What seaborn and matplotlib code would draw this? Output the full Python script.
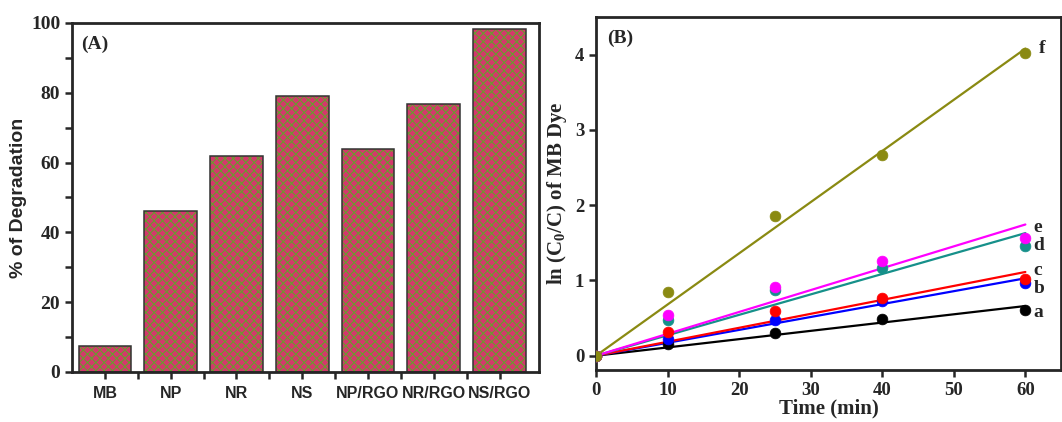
import numpy as np
import pandas as pd
import matplotlib.pyplot as plt
import seaborn as sns

# data: (A) degradation per sample
samples = ['MB', 'NP', 'NR', 'NS', 'NP/RGO', 'NR/RGO', 'NS/RGO']
degradation = [7.5, 46, 62, 79, 64, 76.7, 98.3]

# data: (B) kinetics, ln(C0/C) vs time
time_min = [0, 10, 25, 40, 60]
curve_a = [0, 0.15, 0.30, 0.49, 0.61]
curve_b = [0, 0.22, 0.48, 0.73, 0.97]
curve_c = [0, 0.31, 0.59, 0.77, 1.02]
curve_d = [0, 0.47, 0.87, 1.17, 1.46]
curve_e = [0, 0.54, 0.91, 1.26, 1.56]
curve_f = [0, 0.84, 1.86, 2.67, 4.02]
curve_names = ['a', 'b', 'c', 'd', 'e', 'f']

sns.set_style('ticks')
plt.rcParams['font.family'] = ['Liberation Serif', 'DejaVu Serif']
plt.rcParams['font.weight'] = 'bold'
plt.rcParams['axes.labelweight'] = 'bold'
plt.rcParams['axes.linewidth'] = 2
plt.rcParams['hatch.linewidth'] = 0.8
plt.rcParams['mathtext.fontset'] = 'custom'
plt.rcParams['mathtext.rm'] = 'Liberation Serif:bold'
plt.rcParams['mathtext.bf'] = 'Liberation Serif:bold'

fig = plt.figure(figsize=(10.62, 4.22), dpi=100)
ax1 = fig.add_axes([0.0678, 0.1185, 0.4397, 0.827])
ax2 = fig.add_axes([0.5612, 0.1232, 0.4380, 0.8365])

# ---- panel A ----
df_a = pd.DataFrame({'sample': samples, 'deg': degradation})
sns.barplot(data=df_a, x='sample', y='deg', ax=ax1, color='#d4386c',
            saturation=1, edgecolor='#699c2e', linewidth=0, hatch='xxxx',
            width=0.8)
# outline on top (hatch colour follows edge colour, so draw the border separately)
sns.barplot(data=df_a, x='sample', y='deg', ax=ax1, fill=False,
            edgecolor='#333333', linewidth=1.1, width=0.8)
ax1.set_xlim(-0.5, 6.6)
ax1.set_ylim(0, 100)
ax1.set_xlabel('')
ax1.set_ylabel('% of Degradation', fontsize=14, fontfamily='Liberation Sans',
               fontweight='bold', labelpad=3)
ax1.set_yticks(np.arange(0, 101, 20), [str(v) for v in range(0, 101, 20)],
               fontsize=14, fontweight='bold')
ax1.set_yticks(np.arange(10, 100, 20), minor=True)
ax1.set_xticks(range(len(samples)), samples, fontsize=11.5,
               fontfamily='Liberation Sans', fontweight='bold')
ax1.set_xticks(np.arange(0.5, 6.5, 1), minor=True)
ax1.tick_params(axis='both', which='both', direction='out', width=1.8, length=5)
ax1.tick_params(axis='x', pad=5)
ax1.text(0.02, 0.965, '(A)', transform=ax1.transAxes, fontsize=14,
         fontweight='bold', va='top', ha='left')
for s in ax1.spines.values():
    s.set_visible(True)

# ---- panel B ----
colors = ['#000000', '#0000ff', '#ff0000', '#16908a', '#ff00ff', '#8a8a12']
curves = [curve_a, curve_b, curve_c, curve_d, curve_e, curve_f]
t = np.array(time_min, dtype=float)
label_off = [(6, -1.6), (6, -4), (6, 6), (6, 0), (6, 7.6), (10, 3.3)]
for name, ys, col, off in zip(curve_names, curves, colors, label_off):
    y = np.array(ys)
    k = (t * y).sum() / (t * t).sum()   # first-order fit through origin
    fit = pd.DataFrame({'t': [0, 60], 'y': [0, k * 60]})
    sns.lineplot(data=fit, x='t', y='y', ax=ax2, color=col, linewidth=1.6)
    pts = pd.DataFrame({'t': t, 'y': y})
    sns.scatterplot(data=pts, x='t', y='y', ax=ax2, color=col, s=60,
                    edgecolor=col, linewidth=0.5, zorder=3)
    ax2.annotate(name, (60, ys[-1]), xytext=off, textcoords='offset points',
                 fontsize=14, fontweight='bold', va='center', ha='left')

ax2.set_xlim(0, 65)
ax2.set_ylim(-0.19, 4.5)
ax2.set_xticks(np.arange(0, 61, 10), [str(v) for v in range(0, 61, 10)],
               fontsize=13.5, fontweight='bold')
ax2.set_yticks(np.arange(0, 5, 1), [str(v) for v in range(5)],
               fontsize=13.5, fontweight='bold')
ax2.tick_params(axis='both', which='both', direction='out', width=1.8, length=5)
ax2.set_xlabel('Time (min)', fontsize=15, fontweight='bold', labelpad=0)
ax2.set_ylabel(r'ln (C$_\mathbf{0}$/C) of MB Dye', fontsize=15,
               fontweight='bold', labelpad=4)
ax2.text(0.025, 0.965, '(B)', transform=ax2.transAxes, fontsize=14,
         fontweight='bold', va='top', ha='left')
for s in ax2.spines.values():
    s.set_visible(True)

fig.savefig('out.png', dpi=100)
